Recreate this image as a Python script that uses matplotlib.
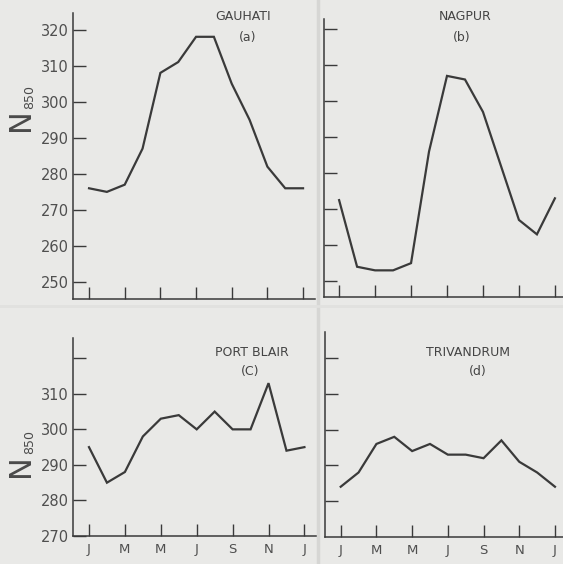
import matplotlib.pyplot as plt

meses = list(range(13))
etiquetas_x = ["J", "M", "M", "J", "S", "N", "J"]

gauhati = [276, 275, 277, 287, 308, 311, 318, 318, 305, 295, 282, 276, 276]
nagpur = [272.5, 254, 253, 253, 255, 286, 307, 306, 297, 282, 267, 263, 273]
port_blair = [295, 285, 288, 298, 303, 304, 300, 305, 300, 300, 313, 294, 295]
trivandrum = [284, 288, 296, 298, 294, 296, 293, 293, 292, 297, 291, 288, 284]

fondo = "#e9e9e7"
tinta = "#3a3a3a"

fig = plt.figure(figsize=(5.63, 5.64), dpi=100, facecolor=fondo)
W, H = 563.0, 564.0


def caja(x0, y0, x1, y1):
    # pixeles (arriba-izquierda) a fraccion de figura
    return [x0 / W, 1 - y1 / H, (x1 - x0) / W, (y1 - y0) / H]


def preparar(ax, datos, xlim, ylim, yticks, ylabels, con_x):
    ax.set_facecolor("none")
    ax.plot(meses, datos, color=tinta, lw=1.6, solid_joinstyle="miter")
    ax.set_xlim(*xlim)
    ax.set_ylim(*ylim)
    for s in ["top", "right"]:
        ax.spines[s].set_visible(False)
    for s in ["left", "bottom"]:
        ax.spines[s].set_color(tinta)
        ax.spines[s].set_linewidth(1.1)
    ax.set_xticks(range(0, 13, 2))
    ax.set_xticklabels(etiquetas_x if con_x else [])
    ax.set_yticks(yticks)
    ax.set_yticklabels(ylabels)
    ax.tick_params(direction="in", length=9, width=1.0, colors=tinta,
                   labelsize=10.5, labelcolor="#4f4f4f")
    ax.tick_params(axis="y", pad=3)
    ax.tick_params(axis="x", pad=5, labelsize=9.5)


# (a) Gauhati
ax_a = fig.add_axes(caja(73, 13, 315, 299))
preparar(ax_a, gauhati, (-0.9, 12.67), (245.3, 324.6), range(250, 321, 10),
         [str(v) for v in range(250, 321, 10)], False)

# (b) Nagpur
ax_b = fig.add_axes(caja(324, 19, 563, 297))
preparar(ax_b, nagpur, (-0.84, 12.45), (245.6, 322.8), range(250, 321, 10), [], False)

# (c) Port Blair
ax_c = fig.add_axes(caja(73, 338, 317, 536))
preparar(ax_c, port_blair, (-0.89, 12.7), (270, 325.7), range(270, 321, 10),
         ["270", "280", "290", "300", "310", ""], True)

# (d) Trivandrum
ax_d = fig.add_axes(caja(325, 332, 563, 537))
preparar(ax_d, trivandrum, (-0.88, 12.45), (269.9, 327.4), range(280, 321, 10), [], True)

# titulos
titulos = [("GAUHATI", "(a)", 243, 17, 248, 38),
           ("NAGPUR", "(b)", 465, 17, 462, 38),
           ("PORT BLAIR", "(C)", 252, 352, 250, 371),
           ("TRIVANDRUM", "(d)", 468, 352, 478, 371)]
for nombre, letra, x1, y1, x2, y2 in titulos:
    fig.text(x1 / W, 1 - y1 / H, nombre, ha="center", va="center",
             fontsize=9, color="#444444")
    fig.text(x2 / W, 1 - y2 / H, letra, ha="center", va="center",
             fontsize=9, color="#444444")

# etiqueta eje y: N con 850 pequeno
for yn, y8 in [(120, 97), (466, 442)]:
    fig.text(21 / W, 1 - yn / H, "N", rotation=90, ha="center", va="center",
             fontsize=22, color="#4a4a4a")
    fig.text(30 / W, 1 - y8 / H, "850", rotation=90, ha="center",
             va="center", fontsize=9, color="#4a4a4a")

# separaciones del montaje
fig.add_artist(plt.Line2D([318 / W, 318 / W], [0, 1], color="#d6d6d4", lw=2.5))
fig.add_artist(plt.Line2D([0, 1], [1 - 306 / H, 1 - 306 / H], color="#e1e1df", lw=2))

fig.savefig("out.png", dpi=100, facecolor=fondo)
